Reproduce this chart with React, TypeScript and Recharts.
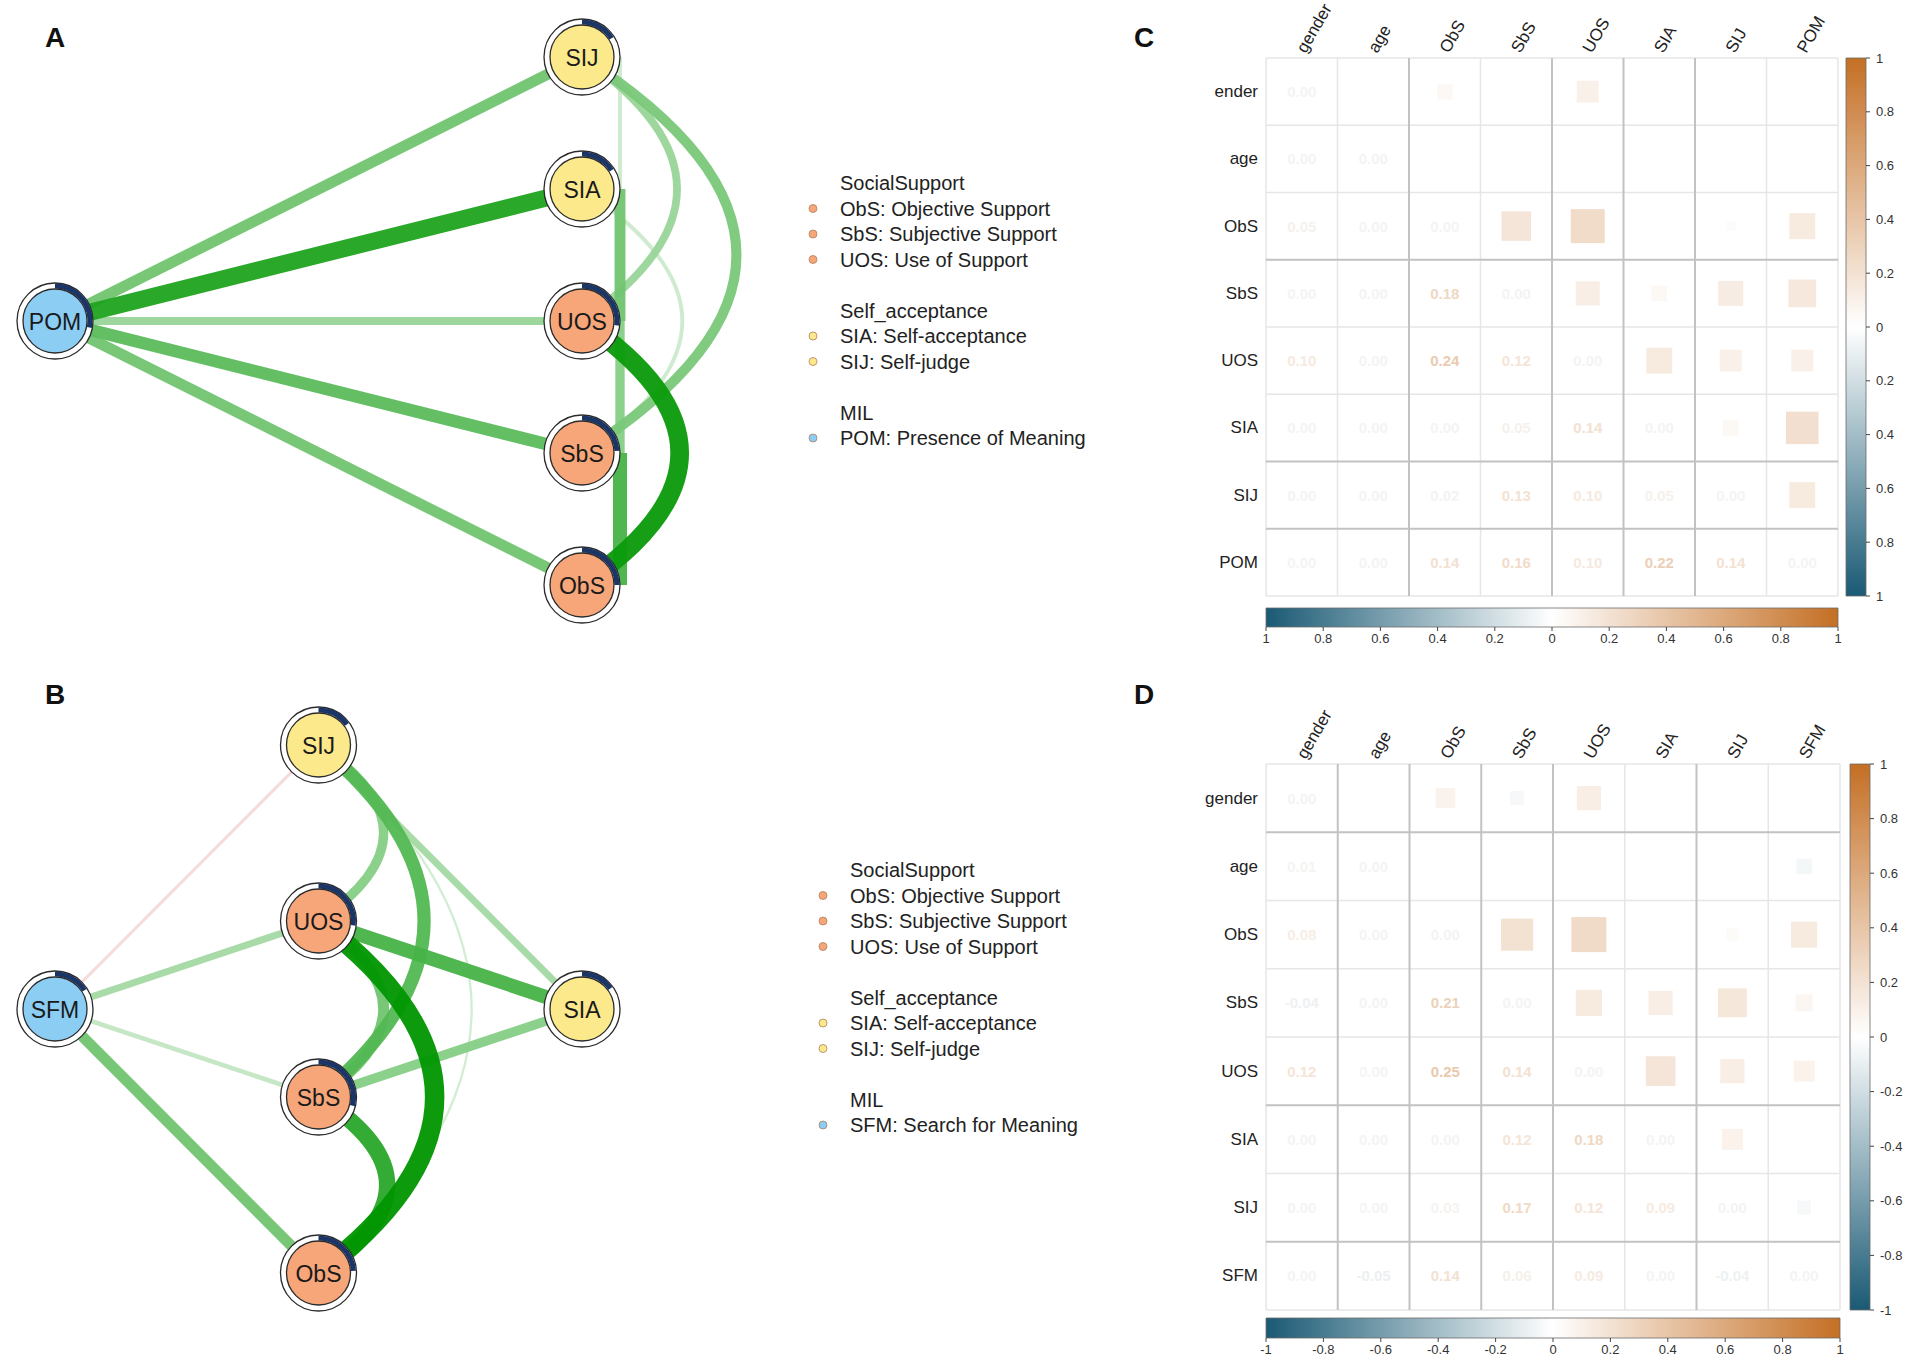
import React from 'react';
import { ScatterChart, Scatter, XAxis, YAxis, ZAxis, ReferenceLine, ReferenceArea } from 'recharts';

const FONT = '"Liberation Sans", Arial, Helvetica, sans-serif';

// ---------------- Network A (POM) ----------------
const nodesA = ['POM', 'SIJ', 'SIA', 'UOS', 'SbS', 'ObS'];
const groupsA = ['MIL', 'Self_acceptance', 'Self_acceptance', 'SocialSupport', 'SocialSupport', 'SocialSupport'];
const predA = [0.28, 0.16, 0.16, 0.27, 0.24, 0.25];
const edgesA: [string, string, number][] = [
  ['POM', 'SIJ', 0.14], ['POM', 'SIA', 0.22], ['POM', 'UOS', 0.10], ['POM', 'SbS', 0.16], ['POM', 'ObS', 0.14],
  ['SIJ', 'SIA', 0.05], ['SIA', 'UOS', 0.14], ['UOS', 'SbS', 0.12], ['SbS', 'ObS', 0.18],
  ['SIJ', 'UOS', 0.10], ['SIJ', 'SbS', 0.13], ['SIA', 'SbS', 0.05], ['UOS', 'ObS', 0.24],
];

// ---------------- Network B (SFM) ----------------
const nodesB = ['SFM', 'SIJ', 'UOS', 'SIA', 'SbS', 'ObS'];
const groupsB = ['MIL', 'Self_acceptance', 'SocialSupport', 'Self_acceptance', 'SocialSupport', 'SocialSupport'];
const predB = [0.16, 0.15, 0.27, 0.15, 0.29, 0.24];
const edgesB: [string, string, number][] = [
  ['SIJ', 'SFM', -0.04], ['SFM', 'UOS', 0.09], ['SFM', 'SbS', 0.06], ['SFM', 'ObS', 0.14],
  ['SIJ', 'SIA', 0.09], ['UOS', 'SIA', 0.18], ['SbS', 'SIA', 0.12],
  ['SIJ', 'UOS', 0.12], ['SIJ', 'SbS', 0.17], ['SIJ', 'ObS', 0.03],
  ['UOS', 'SbS', 0.14], ['UOS', 'ObS', 0.25], ['SbS', 'ObS', 0.21],
];

// ---------------- Correlation matrix C (lower triangle rows) ----------------
const colsC = ['gender', 'age', 'ObS', 'SbS', 'UOS', 'SIA', 'SIJ', 'POM'];
const rowsC = ['ender', 'age', 'ObS', 'SbS', 'UOS', 'SIA', 'SIJ', 'POM'];
const cGender = [0.00];
const cAge = [0.00, 0.00];
const cObS = [0.05, 0.00, 0.00];
const cSbS = [0.00, 0.00, 0.18, 0.00];
const cUOS = [0.10, 0.00, 0.24, 0.12, 0.00];
const cSIA = [0.00, 0.00, 0.00, 0.05, 0.14, 0.00];
const cSIJ = [0.00, 0.00, 0.02, 0.13, 0.10, 0.05, 0.00];
const cPOM = [0.00, 0.00, 0.14, 0.16, 0.10, 0.22, 0.14, 0.00];

// ---------------- Correlation matrix D ----------------
const colsD = ['gender', 'age', 'ObS', 'SbS', 'UOS', 'SIA', 'SIJ', 'SFM'];
const rowsD = ['gender', 'age', 'ObS', 'SbS', 'UOS', 'SIA', 'SIJ', 'SFM'];
const dGender = [0.00];
const dAge = [0.01, 0.00];
const dObS = [0.08, 0.00, 0.00];
const dSbS = [-0.04, 0.00, 0.21, 0.00];
const dUOS = [0.12, 0.00, 0.25, 0.14, 0.00];
const dSIA = [0.00, 0.00, 0.00, 0.12, 0.18, 0.00];
const dSIJ = [0.00, 0.00, 0.03, 0.17, 0.12, 0.09, 0.00];
const dSFM = [0.00, -0.05, 0.14, 0.06, 0.09, 0.00, -0.04, 0.00];

// colour-bar ticks
const cbTicks = [-1, -0.8, -0.6, -0.4, -0.2, 0, 0.2, 0.4, 0.6, 0.8, 1];
const cbLabelsC = ['1', '0.8', '0.6', '0.4', '0.2', '0', '0.2', '0.4', '0.6', '0.8', '1'];
const cbLabelsD = ['-1', '-0.8', '-0.6', '-0.4', '-0.2', '0', '0.2', '0.4', '0.6', '0.8', '1'];

// legend
const legendGroups = ['SocialSupport', 'Self_acceptance', 'MIL'];
const legendItemsSocial = [['ObS', 'Objective Support'], ['SbS', 'Subjective Support'], ['UOS', 'Use of Support']];
const legendItemsSelf = [['SIA', 'Self-acceptance'], ['SIJ', 'Self-judge']];
const legendItemsMilA = [['POM', 'Presence of Meaning']];
const legendItemsMilB = [['SFM', 'Search for Meaning']];

// ---------------- styles / layout ----------------
const GROUP_COLOR: Record<string, string> = {
  SocialSupport: '#f6a679',
  Self_acceptance: '#fbe98c',
  MIL: '#8bcdf3',
};
const layoutA: Record<string, [number, number]> = {
  POM: [-1, 0], SIJ: [1, 1], SIA: [1, 0.5], UOS: [1, 0], SbS: [1, -0.5], ObS: [1, -1],
};
const curvesA: Record<string, number> = { 'SIJ-UOS': 0.36, 'SIJ-SbS': 0.39, 'SIA-SbS': 0.38, 'UOS-ObS': 0.37 };
const tangentA = ['SIJ-SIA', 'SIA-UOS', 'UOS-SbS', 'SbS-ObS'];
const layoutB: Record<string, [number, number]> = {
  SFM: [-1, 0], SIA: [1, 0], SIJ: [0, 1], UOS: [0, 1 / 3], SbS: [0, -1 / 3], ObS: [0, -1],
};
const curvesB: Record<string, number> = {
  'SIJ-UOS': 0.37, 'SIJ-SbS': 0.3, 'SIJ-ObS': 0.29, 'UOS-SbS': 0.37, 'UOS-ObS': 0.33, 'SbS-ObS': 0.39,
};
const tangentB: string[] = [];

// ---------------- helpers ----------------
const mix = (a: number[], b: number[], t: number) =>
  `rgb(${Math.round(a[0] + (b[0] - a[0]) * t)},${Math.round(a[1] + (b[1] - a[1]) * t)},${Math.round(a[2] + (b[2] - a[2]) * t)})`;
const WHITE = [255, 255, 255];
const NEG = [26, 90, 116];
const POS = [196, 111, 36];
const corrColor = (v: number) => {
  const t = Math.max(-1, Math.min(1, v));
  return mix(WHITE, t >= 0 ? POS : NEG, Math.abs(t));
};
const textColor = (v: number) => {
  const t = Math.max(-1, Math.min(1, v * 1.5));
  const base = t >= 0 ? POS : NEG;
  const a = Math.abs(t);
  const c = [255 + (base[0] - 255) * a, 255 + (base[1] - 255) * a, 255 + (base[2] - 255) * a];
  const g = Math.max(0, 1 - Math.abs(v) / 0.1) * 0.4;
  return mix(c, [228, 228, 228], g);
};
const edgeColor = (w: number) => {
  const f = Math.min(1, Math.max(0.18, Math.abs(w) / 0.25));
  return mix(WHITE, w >= 0 ? [0, 150, 0] : [205, 45, 45], f);
};

const emptyShape = () => <g />;

const makeEdgeLine = (w: number, curve: number, shift: number) => (props: any) => {
  const pts = props && props.points;
  if (!pts || pts.length < 2 || pts[0].x == null) return <g />;
  const x1 = pts[0].x + shift, y1 = pts[0].y, x2 = pts[1].x + shift, y2 = pts[1].y;
  const sw = Math.max(2, Math.abs(w) * 78);
  let d = `M${x1},${y1} L${x2},${y2}`;
  if (curve) {
    const dx = x2 - x1, dy = y2 - y1;
    const len = Math.hypot(dx, dy);
    const nx = dy / len, ny = -dx / len;
    const qx = (x1 + x2) / 2 + nx * curve * len * 2;
    const qy = (y1 + y2) / 2 + ny * curve * len * 2;
    d = `M${x1},${y1} Q${qx},${qy} ${x2},${y2}`;
  }
  return <path d={d} stroke={edgeColor(w)} strokeWidth={sw} fill="none" strokeOpacity={0.95} />;
};

const NodeShape = (props: any) => {
  const { cx, cy, payload } = props;
  if (cx == null || !payload) return <g />;
  const R = 38, r = 32, ar = 35;
  const p = payload.pred;
  const a = 2 * Math.PI * p;
  const ex = cx + ar * Math.sin(a), ey = cy - ar * Math.cos(a);
  return (
    <g>
      <circle cx={cx} cy={cy} r={R} fill="#fff" stroke="#2b2b2b" strokeWidth={1.3} />
      <path d={`M${cx},${cy - ar} A${ar},${ar} 0 ${p > 0.5 ? 1 : 0} 1 ${ex},${ey}`} stroke="#1b3566" strokeWidth={5} fill="none" />
      <circle cx={cx} cy={cy} r={r} fill={GROUP_COLOR[payload.group]} stroke="#2b2b2b" strokeWidth={1.3} />
      <text x={cx} y={cy + 1} textAnchor="middle" dominantBaseline="central" fontSize={23} fontFamily={FONT} fill="#1a1a1a">
        {payload.id}
      </text>
    </g>
  );
};

function Network(props: any) {
  const { nodes, groups, pred, edges, layout, curves, tangents, width, height, margin } = props;
  const nodeData = nodes.map((id: string, i: number) => ({ id, group: groups[i], pred: pred[i], x: layout[id][0], y: layout[id][1] }));
  const sorted = [...edges].sort((a: any, b: any) => Math.abs(a[2]) - Math.abs(b[2]));
  return (
    <ScatterChart width={width} height={height} margin={margin}>
      <XAxis type="number" dataKey="x" domain={[-1, 1]} hide />
      <YAxis type="number" dataKey="y" domain={[-1, 1]} hide />
      {sorted.map(([f, t, w]: any) => {
        const key = `${f}-${t}`;
        const data = [{ x: layout[f][0], y: layout[f][1] }, { x: layout[t][0], y: layout[t][1] }];
        return (
          <Scatter
            key={key}
            data={data}
            line={makeEdgeLine(w, curves[key] || 0, tangents.includes(key) ? 38 : 0)}
            lineType="joint"
            shape={emptyShape}
            isAnimationActive={false}
          />
        );
      })}
      <Scatter data={nodeData} shape={NodeShape} isAnimationActive={false} />
    </ScatterChart>
  );
}

const SquareShape = (props: any) => {
  const { cx, cy, payload, size, width } = props;
  if (cx == null || !payload) return <g />;
  const area = typeof size === 'number' ? size : Math.PI * Math.pow((width || 0) / 2, 2);
  const s = Math.sqrt(Math.max(0, area));
  if (s < 0.5) return <g />;
  return <rect x={cx - s / 2} y={cy - s / 2} width={s} height={s} fill={corrColor(payload.v)} />;
};

const TextShape = (props: any) => {
  const { cx, cy, payload } = props;
  if (cx == null || !payload) return <g />;
  return (
    <text x={cx} y={cy} textAnchor="middle" dominantBaseline="central" fontSize={15} fontWeight="bold" fontFamily={FONT} fill={textColor(payload.v)}>
      {payload.v.toFixed(2)}
    </text>
  );
};

function Matrix(props: any) {
  const { cols, rows, lower, darkX, darkY, width, height, margin, cellArea } = props;
  const n = cols.length;
  const cells: any[] = [];
  const texts: any[] = [];
  for (let i = 0; i < n; i++) {
    for (let j = 0; j <= i; j++) texts.push({ x: j + 0.5, y: i + 0.5, v: lower[i][j] });
    for (let j = i + 1; j < n; j++) {
      const v = lower[j][i];
      cells.push({ x: j + 0.5, y: i + 0.5, z: Math.abs(v), v });
    }
  }
  const ticks = cols.map((_: string, i: number) => i + 0.5);
  const lines = Array.from({ length: n + 1 }, (_, k) => k);
  const colTick = (p: any) => {
    const idx = Math.floor(p.payload.value);
    const x = p.x + 4, y = p.y;
    return (
      <text x={x} y={y} transform={`rotate(-60 ${x} ${y})`} fontSize={17} fontFamily={FONT} fill="#222" textAnchor="start">
        {cols[idx]}
      </text>
    );
  };
  const rowTick = (p: any) => {
    const idx = Math.floor(p.payload.value);
    return (
      <text x={p.x} y={p.y} textAnchor="end" dominantBaseline="central" fontSize={17} fontFamily={FONT} fill="#222">
        {rows[idx]}
      </text>
    );
  };
  return (
    <ScatterChart width={width} height={height} margin={margin}>
      <XAxis type="number" dataKey="x" domain={[0, n]} orientation="top" ticks={ticks} interval={0} tick={colTick} axisLine={false} tickLine={false} tickSize={2} tickMargin={2} height={50} />
      <YAxis type="number" dataKey="y" domain={[0, n]} reversed ticks={ticks} interval={0} tick={rowTick} axisLine={false} tickLine={false} tickSize={4} tickMargin={4} width={90} />
      <ZAxis type="number" dataKey="z" domain={[0, 1]} range={[0, cellArea]} />
      {lines.filter((k) => !darkX.includes(k)).map((k) => (
        <ReferenceLine key={`lx${k}`} x={k} stroke="#e6e6e6" strokeWidth={1.5} />
      ))}
      {lines.filter((k) => !darkY.includes(k)).map((k) => (
        <ReferenceLine key={`ly${k}`} y={k} stroke="#e6e6e6" strokeWidth={1.5} />
      ))}
      {darkX.map((k: number) => (
        <ReferenceLine key={`dx${k}`} x={k} stroke="#c2c2c2" strokeWidth={2} />
      ))}
      {darkY.map((k: number) => (
        <ReferenceLine key={`dy${k}`} y={k} stroke="#c2c2c2" strokeWidth={2} />
      ))}
      <Scatter data={cells} shape={SquareShape} isAnimationActive={false} />
      <Scatter data={texts} shape={TextShape} isAnimationActive={false} />
    </ScatterChart>
  );
}

const gradStops = () =>
  cbTicks.map((t) => <stop key={t} offset={`${((t + 1) / 2) * 100}%`} stopColor={corrColor(t)} />);

function HBar(props: any) {
  const { id, labels, width, height, margin, axisH } = props;
  const lab = (v: number) => labels[Math.round((v + 1) * 5)];
  return (
    <ScatterChart width={width} height={height} margin={margin}>
      <defs>
        <linearGradient id={id} x1="0" y1="0" x2="1" y2="0">
          {gradStops()}
        </linearGradient>
      </defs>
      <XAxis type="number" dataKey="x" domain={[-1, 1]} ticks={cbTicks} interval={0} tickFormatter={lab} axisLine={false} tickLine={{ stroke: '#444' }} tickSize={4} tickMargin={3} height={axisH} tick={{ fontSize: 13, fill: '#333', fontFamily: FONT }} />
      <YAxis type="number" dataKey="y" domain={[0, 1]} hide />
      <ReferenceArea x1={-1} x2={1} y1={0} y2={1} fill={`url(#${id})`} fillOpacity={1} stroke="#6a6a6a" strokeWidth={0.8} />
      <Scatter data={cbTicks.map((x) => ({ x, y: 0.5 }))} shape={emptyShape} isAnimationActive={false} />
    </ScatterChart>
  );
}

function VBar(props: any) {
  const { id, labels, width, height, margin, axisW } = props;
  const lab = (v: number) => labels[Math.round((v + 1) * 5)];
  return (
    <ScatterChart width={width} height={height} margin={margin}>
      <defs>
        <linearGradient id={id} x1="0" y1="1" x2="0" y2="0">
          {gradStops()}
        </linearGradient>
      </defs>
      <XAxis type="number" dataKey="x" domain={[0, 1]} hide />
      <YAxis type="number" dataKey="y" orientation="right" domain={[-1, 1]} ticks={cbTicks} interval={0} tickFormatter={lab} axisLine={false} tickLine={{ stroke: '#444' }} tickSize={4} tickMargin={6} width={axisW} tick={{ fontSize: 13, fill: '#333', fontFamily: FONT, textAnchor: 'start' }} />
      <ReferenceArea x1={0} x2={1} y1={-1} y2={1} fill={`url(#${id})`} fillOpacity={1} stroke="#6a6a6a" strokeWidth={0.8} />
      <Scatter data={cbTicks.map((y) => ({ x: 0.5, y }))} shape={emptyShape} isAnimationActive={false} />
    </ScatterChart>
  );
}

function LegendBlock(props: any) {
  const { x, y, milItems } = props;
  const blocks = [legendItemsSocial, legendItemsSelf, milItems];
  const rowH = 25.5;
  const out: any[] = [];
  let yy = y;
  blocks.forEach((items: any, bi: number) => {
    const g = legendGroups[bi];
    out.push(
      <text key={`t${bi}`} x={x + 27} y={yy} dominantBaseline="central" fontSize={20} fontFamily={FONT} fill="#222">
        {g}
      </text>
    );
    yy += rowH;
    items.forEach((it: string[], ii: number) => {
      out.push(<circle key={`c${bi}${ii}`} cx={x} cy={yy} r={4} fill={GROUP_COLOR[g]} stroke="#b08060" strokeWidth={0.8} />);
      out.push(
        <text key={`i${bi}${ii}`} x={x + 27} y={yy} dominantBaseline="central" fontSize={20} fontFamily={FONT} fill="#222">
          {`${it[0]}: ${it[1]}`}
        </text>
      );
      yy += rowH;
    });
    yy += rowH;
  });
  return <g>{out}</g>;
}

export default function App() {
  const abs = (left: number, top: number): React.CSSProperties => ({ position: 'absolute', left, top });
  return (
    <div style={{ position: 'absolute', left: 0, top: 0, width: 1908, height: 1361, background: '#fff', overflow: 'hidden', fontFamily: FONT }}>
      <svg width={1908} height={1361} style={{ position: 'absolute', left: 0, top: 0 }}>
        <text x={55} y={47} textAnchor="middle" fontSize={28} fontWeight="bold" fontFamily={FONT} fill="#111">A</text>
        <text x={55} y={704} textAnchor="middle" fontSize={28} fontWeight="bold" fontFamily={FONT} fill="#111">B</text>
        <text x={1144} y={47} textAnchor="middle" fontSize={28} fontWeight="bold" fontFamily={FONT} fill="#111">C</text>
        <text x={1144} y={704} textAnchor="middle" fontSize={28} fontWeight="bold" fontFamily={FONT} fill="#111">D</text>
        <LegendBlock x={813} y={183} milItems={legendItemsMilA} />
        <LegendBlock x={823} y={870} milItems={legendItemsMilB} />
      </svg>

      <div style={abs(0, 0)}>
        <Network nodes={nodesA} groups={groupsA} pred={predA} edges={edgesA} layout={layoutA} curves={curvesA} tangents={tangentA}
          width={780} height={660} margin={{ top: 57, left: 55, right: 198, bottom: 75 }} />
      </div>
      <div style={abs(0, 680)}>
        <Network nodes={nodesB} groups={groupsB} pred={predB} edges={edgesB} layout={layoutB} curves={curvesB} tangents={tangentB}
          width={780} height={681} margin={{ top: 65, left: 55, right: 198, bottom: 88 }} />
      </div>

      <div style={abs(1140, 0)}>
        <Matrix cols={colsC} rows={rowsC} lower={[cGender, cAge, cObS, cSbS, cUOS, cSIA, cSIJ, cPOM]}
          darkX={[2, 4, 5, 6]} darkY={[3, 6, 7]} width={768} height={660}
          margin={{ top: 8, left: 36, right: 70, bottom: 64 }} cellArea={(572 / 8) * (538 / 8)} />
      </div>
      <div style={abs(1840, 40)}>
        <VBar id="gvC" labels={cbLabelsC} width={68} height={574} margin={{ top: 18, bottom: 18, left: 6, right: 2 }} axisW={40} />
      </div>
      <div style={abs(1250, 598)}>
        <HBar id="ghC" labels={cbLabelsC} width={610} height={62} margin={{ top: 10, bottom: 3, left: 16, right: 22 }} axisH={30} />
      </div>

      <div style={abs(1140, 680)}>
        <Matrix cols={colsD} rows={rowsD} lower={[dGender, dAge, dObS, dSbS, dUOS, dSIA, dSIJ, dSFM]}
          darkX={[1, 2, 3, 4, 6]} darkY={[1, 5, 7]} width={768} height={681}
          margin={{ top: 34, left: 36, right: 68, bottom: 51 }} cellArea={(574 / 8) * (546 / 8)} />
      </div>
      <div style={abs(1840, 746)}>
        <VBar id="gvD" labels={cbLabelsD} width={68} height={582} margin={{ top: 18, bottom: 18, left: 10, right: 2 }} axisW={36} />
      </div>
      <div style={abs(1250, 1308)}>
        <HBar id="ghD" labels={cbLabelsD} width={612} height={53} margin={{ top: 10, bottom: 1, left: 16, right: 22 }} axisH={22} />
      </div>
    </div>
  );
}
